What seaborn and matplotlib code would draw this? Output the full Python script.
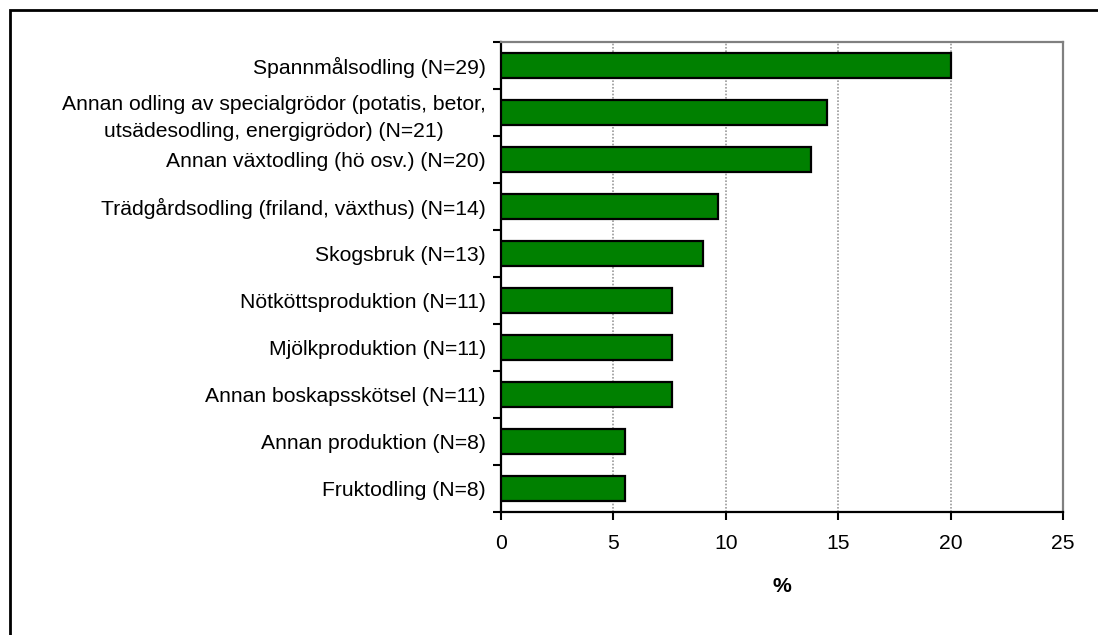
import matplotlib
matplotlib.use("Agg")
import matplotlib.pyplot as plt
import seaborn as sns
import pandas as pd
from matplotlib.patches import Rectangle
from matplotlib.ticker import FixedLocator

# Data
categories = [
    "Spannmålsodling (N=29)",
    "Annan odling av specialgrödor (potatis, betor,\nutsädesodling, energigrödor) (N=21)",
    "Annan växtodling (hö osv.) (N=20)",
    "Trädgårdsodling (friland, växthus) (N=14)",
    "Skogsbruk (N=13)",
    "Nötköttsproduktion (N=11)",
    "Mjölkproduktion (N=11)",
    "Annan boskapsskötsel (N=11)",
    "Annan produktion (N=8)",
    "Fruktodling (N=8)",
]
percent = [20.0, 14.48, 13.79, 9.66, 8.97, 7.59, 7.59, 7.59, 5.52, 5.52]
x_ticks = [0, 5, 10, 15, 20, 25]

df = pd.DataFrame({"category": categories, "percent": percent})

sns.set_style("white")
plt.rcParams["font.family"] = ["Liberation Sans", "DejaVu Sans"]
plt.rcParams["text.color"] = "black"
plt.rcParams["axes.labelcolor"] = "black"
plt.rcParams["xtick.color"] = "black"
plt.rcParams["ytick.color"] = "black"

fig = plt.figure(figsize=(10.98, 6.35), dpi=100)
ax = fig.add_axes([501 / 1098, 1 - 512 / 635, (1063 - 501) / 1098, (512 - 42) / 635])

sns.barplot(data=df, x="percent", y="category", orient="y", color="#008000",
            saturation=1, width=0.55, edgecolor="black", linewidth=1.6, ax=ax, zorder=3)

ax.set_xlim(0, 25)
ax.set_ylim(len(categories) - 0.5, -0.5)
ax.set_xticks(x_ticks)
ax.set_xticklabels([str(t) for t in x_ticks], fontsize=15.2)
ax.tick_params(axis="x", which="major", bottom=True, direction="out",
               length=6, width=1.5, pad=10, colors="black")

# category ticks sit between the bars, labels at bar centres
ax.yaxis.set_major_locator(FixedLocator(range(len(categories))))
ax.set_yticklabels(categories, fontsize=15.2, multialignment="center", linespacing=1.52)
ax.tick_params(axis="y", which="major", left=True, length=0, pad=11)
ax.yaxis.set_minor_locator(FixedLocator([i - 0.5 for i in range(len(categories) + 1)]))
ax.tick_params(axis="y", which="minor", left=True, direction="out",
               length=6, width=1.5, color="black")

ax.set_xlabel("%", fontsize=15.2, fontweight="bold", labelpad=17)
ax.set_ylabel("")

ax.xaxis.grid(True, color="#9a9a9a", linestyle=(0, (1, 1)), linewidth=1.2, zorder=0)
ax.yaxis.grid(False)
ax.set_axisbelow(True)

for side in ["left", "bottom"]:
    ax.spines[side].set_color("black")
    ax.spines[side].set_linewidth(1.6)
for side in ["top", "right"]:
    ax.spines[side].set_visible(True)
    ax.spines[side].set_color("#808080")
    ax.spines[side].set_linewidth(1.6)

# outer chart border (only top and left edges fall inside the picture)
fig.patches.append(Rectangle((10 / 1098, -0.1), 1.1, 1 - 10 / 635 + 0.1,
                             transform=fig.transFigure, fill=False,
                             edgecolor="black", linewidth=2))

fig.savefig("out.png", dpi=100)
